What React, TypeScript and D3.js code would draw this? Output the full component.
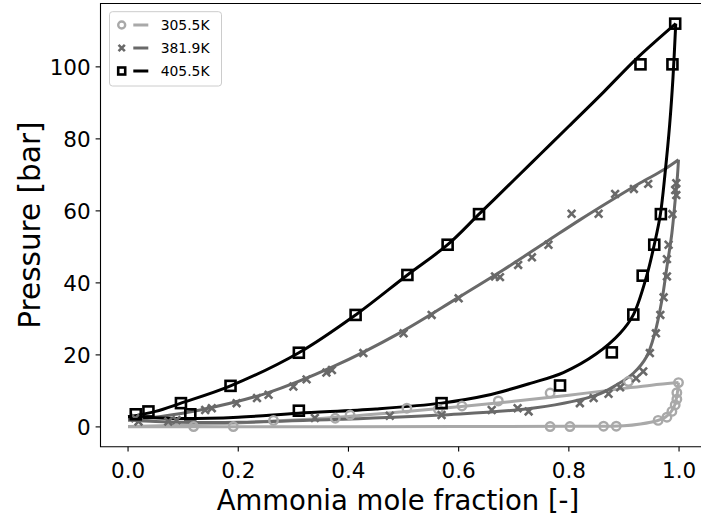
import * as d3 from "d3";

type Pt = [number, number];

const xTicks = [0, 0.2, 0.4, 0.6, 0.8, 1.0];
const yTicks = [0, 20, 40, 60, 80, 100];
const seriesNames = ["305.5K", "381.9K", "405.5K"];

// measured points (x, pressure in bar)
const pts305: Pt[] = [
  [0.119, 0.1], [0.191, 0.1], [0.264, 1.8], [0.376, 2.4], [0.403, 3.3],
  [0.506, 5.2], [0.563, 4.9], [0.606, 5.8], [0.672, 7.2], [0.766, 9.4],
  [0.908, 12.6], [0.999, 12.3], [0.766, 0.1], [0.802, 0.1], [0.863, 0.2],
  [0.886, 0.2], [0.962, 1.8], [0.978, 2.7], [0.987, 4.3], [0.993, 6.1],
  [0.996, 7.7], [0.996, 9.5],
];
const pts381: Pt[] = [
  [0.013, 2.4], [0.14, 4.7], [0.152, 5.2], [0.197, 6.6], [0.234, 8.0],
  [0.255, 8.9], [0.3, 11.2], [0.324, 13.2], [0.36, 15.1], [0.37, 15.8],
  [0.427, 20.5], [0.5, 26.0], [0.551, 31.1], [0.6, 35.7], [0.666, 41.8],
  [0.675, 41.6], [0.708, 45.0], [0.733, 47.1], [0.763, 50.6], [0.805, 59.2],
  [0.854, 59.2], [0.884, 64.7], [0.918, 66.1], [0.944, 67.5],
  [0.019, 1.5], [0.073, 1.5], [0.088, 1.9], [0.339, 2.5], [0.475, 3.1],
  [0.569, 3.3], [0.66, 4.7], [0.707, 5.2], [0.727, 4.3], [0.82, 6.6],
  [0.845, 8.0], [0.872, 9.2], [0.893, 11.0], [0.922, 13.5], [0.935, 15.4],
  [0.947, 20.5], [0.958, 26.0], [0.966, 31.1], [0.972, 36.0], [0.978, 41.8],
  [0.978, 46.6], [0.981, 50.6], [0.988, 59.1], [0.995, 64.4], [0.993, 65.8],
  [0.995, 67.7],
];
const pts405: Pt[] = [
  [0.014, 3.5], [0.037, 4.3], [0.096, 6.6], [0.113, 3.5], [0.186, 11.4],
  [0.31, 20.6], [0.31, 4.5], [0.413, 31.1], [0.507, 42.2], [0.569, 6.6],
  [0.58, 50.6], [0.637, 59.1], [0.784, 11.5], [0.878, 20.7], [0.917, 31.2],
  [0.934, 42.0], [0.955, 50.6], [0.967, 59.1], [0.93, 100.7], [0.988, 100.7],
  [0.993, 112.0],
];

// model curves: bubble (liquid) and dew (vapour) lines
const bubble305: Pt[] = [
  [0, 0.1], [0.1, 0.5], [0.2, 1.1], [0.3, 1.9], [0.4, 2.9], [0.5, 4.2],
  [0.6, 5.6], [0.7, 7.1], [0.8, 8.8], [0.9, 10.7], [0.95, 11.6], [0.999, 12.3],
];
const dew305: Pt[] = [
  [0, 0.05], [0.3, 0.05], [0.6, 0.1], [0.8, 0.15], [0.9, 0.3], [0.93, 0.8],
  [0.96, 1.7], [0.975, 2.7], [0.985, 4.1], [0.992, 6.0], [0.996, 8.5], [0.999, 12.3],
];
const bubble381: Pt[] = [
  [0, 1.9], [0.06, 2.9], [0.131, 4.7], [0.252, 9.4], [0.373, 16.8], [0.494, 26.2],
  [0.597, 35.7], [0.68, 43.5], [0.76, 51.5], [0.82, 57.5], [0.881, 63.3],
  [0.93, 67.8], [0.972, 71.4], [0.999, 74.2],
];
const dew381: Pt[] = [
  [0, 1.9], [0.05, 1.5], [0.1, 1.3], [0.2, 1.3], [0.385, 2.1], [0.566, 3.3],
  [0.74, 5.3], [0.851, 8.9], [0.887, 11.7], [0.917, 14.9], [0.941, 19.5],
  [0.956, 26.0], [0.969, 35.3], [0.978, 44.5], [0.987, 53.8], [0.993, 63.0],
  [0.997, 69.5], [0.999, 74.2],
];
const bubble405: Pt[] = [
  [0, 2.8], [0.05, 4.3], [0.096, 6.6], [0.186, 11.4], [0.31, 20.6], [0.413, 31.1],
  [0.507, 42.2], [0.58, 50.6], [0.637, 59.1], [0.7, 68.5], [0.75, 76.0],
  [0.8, 83.5], [0.863, 93.0], [0.923, 102.3], [0.994, 112.0],
];
const dew405: Pt[] = [
  [0, 2.8], [0.1, 2.3], [0.2, 2.7], [0.309, 3.8], [0.45, 5.0], [0.569, 6.6],
  [0.65, 8.7], [0.73, 12.1], [0.79, 15.1], [0.85, 20.3], [0.893, 26.0],
  [0.917, 31.1], [0.941, 41.8], [0.955, 50.6], [0.966, 58.9], [0.975, 71.0],
  [0.983, 84.0], [0.989, 97.0], [0.994, 112.0],
];

const colors = ["#a9a9a9", "#696969", "#000000"];
const font = "DejaVu Sans, sans-serif";

function Marker({ kind, cx, cy, color, s }: { kind: number; cx: number; cy: number; color: string; s: number }) {
  if (kind === 0) {
    return <circle cx={cx} cy={cy} r={s * 0.5} fill="none" stroke={color} strokeWidth={2.4} />;
  }
  if (kind === 1) {
    const h = s * 0.45;
    return (
      <path
        d={`M${cx - h},${cy - h}L${cx + h},${cy + h}M${cx - h},${cy + h}L${cx + h},${cy - h}`}
        stroke={color}
        strokeWidth={2.6}
        fill="none"
      />
    );
  }
  const h = s * 0.5;
  return <rect x={cx - h} y={cy - h} width={2 * h} height={2 * h} fill="none" stroke={color} strokeWidth={2.6} />;
}

export default function App() {
  const left = 100.5, right = 706.6, top = 3.5, bottom = 446.7;
  const x = d3.scaleLinear().domain([-0.05, 1.05]).range([left, right]);
  const y = d3.scaleLinear().domain([-5.5, 117.6]).range([bottom, top]);

  const line = d3
    .line<Pt>()
    .x((d) => x(d[0]))
    .y((d) => y(d[1]))
    .curve(d3.curveCatmullRom.alpha(0.5));

  const curves = [
    [bubble305, dew305],
    [bubble381, dew381],
    [bubble405, dew405],
  ];
  const points = [pts305, pts381, pts405];

  return (
    <svg
      width={701}
      height={517}
      style={{ position: "absolute", left: 0, top: 0, background: "#fff" }}
      fontFamily={font}
    >
      <defs>
        <clipPath id="plot">
          <rect x={left} y={top} width={right - left} height={bottom - top} />
        </clipPath>
      </defs>
      <rect width={701} height={517} fill="#fff" />
      <g clipPath="url(#plot)">
        {curves.map((pair, i) =>
          pair.map((c, j) => (
            <path key={`${i}-${j}`} d={line(c) ?? ""} fill="none" stroke={colors[i]} strokeWidth={3} />
          ))
        )}
        {points.map((ps, i) =>
          ps.map((p, j) => (
            <Marker key={`${i}-${j}`} kind={i} cx={x(p[0])} cy={y(p[1])} color={colors[i]} s={i === 2 ? 10 : 8.5} />
          ))
        )}
      </g>
      {/* spines */}
      <path
        d={`M${left},${top}L${left},${bottom}L${right},${bottom}L${right},${top}Z`}
        fill="none"
        stroke="#000"
        strokeWidth={1.1}
      />
      {/* x axis */}
      {xTicks.map((t) => (
        <g key={t} transform={`translate(${x(t)},${bottom})`}>
          <line y2={4.9} stroke="#000" strokeWidth={1.1} />
          <text y={31.5} textAnchor="middle" fontSize={21.5}>
            {t.toFixed(1)}
          </text>
        </g>
      ))}
      {/* y axis */}
      {yTicks.map((t) => (
        <g key={t} transform={`translate(${left},${y(t)})`}>
          <line x2={-4.9} stroke="#000" strokeWidth={1.1} />
          <text x={-9.8} dy="0.36em" textAnchor="end" fontSize={21.5}>
            {t}
          </text>
        </g>
      ))}
      <text x={398} y={509.5} textAnchor="middle" fontSize={27.5}>
        Ammonia mole fraction [-]
      </text>
      <text
        transform={`translate(40,${(top + bottom) / 2}) rotate(-90)`}
        textAnchor="middle"
        fontSize={29.5}
      >
        Pressure [bar]
      </text>
      {/* legend */}
      <g>
        <rect x={109.5} y={11.7} width={112} height={74.3} rx={3} fill="#fff" fillOpacity={0.8} stroke="#cccccc" strokeWidth={1} />
        {seriesNames.map((name, i) => {
          const cy = 25 + i * 23;
          return (
            <g key={name}>
              <Marker kind={i} cx={121.7} cy={cy} color={colors[i]} s={7} />
              <line x1={133.3} x2={148.3} y1={cy} y2={cy} stroke={colors[i]} strokeWidth={3} />
              <text x={160.7} y={cy} dy="0.36em" fontSize={13.9}>
                {name}
              </text>
            </g>
          );
        })}
      </g>
    </svg>
  );
}
